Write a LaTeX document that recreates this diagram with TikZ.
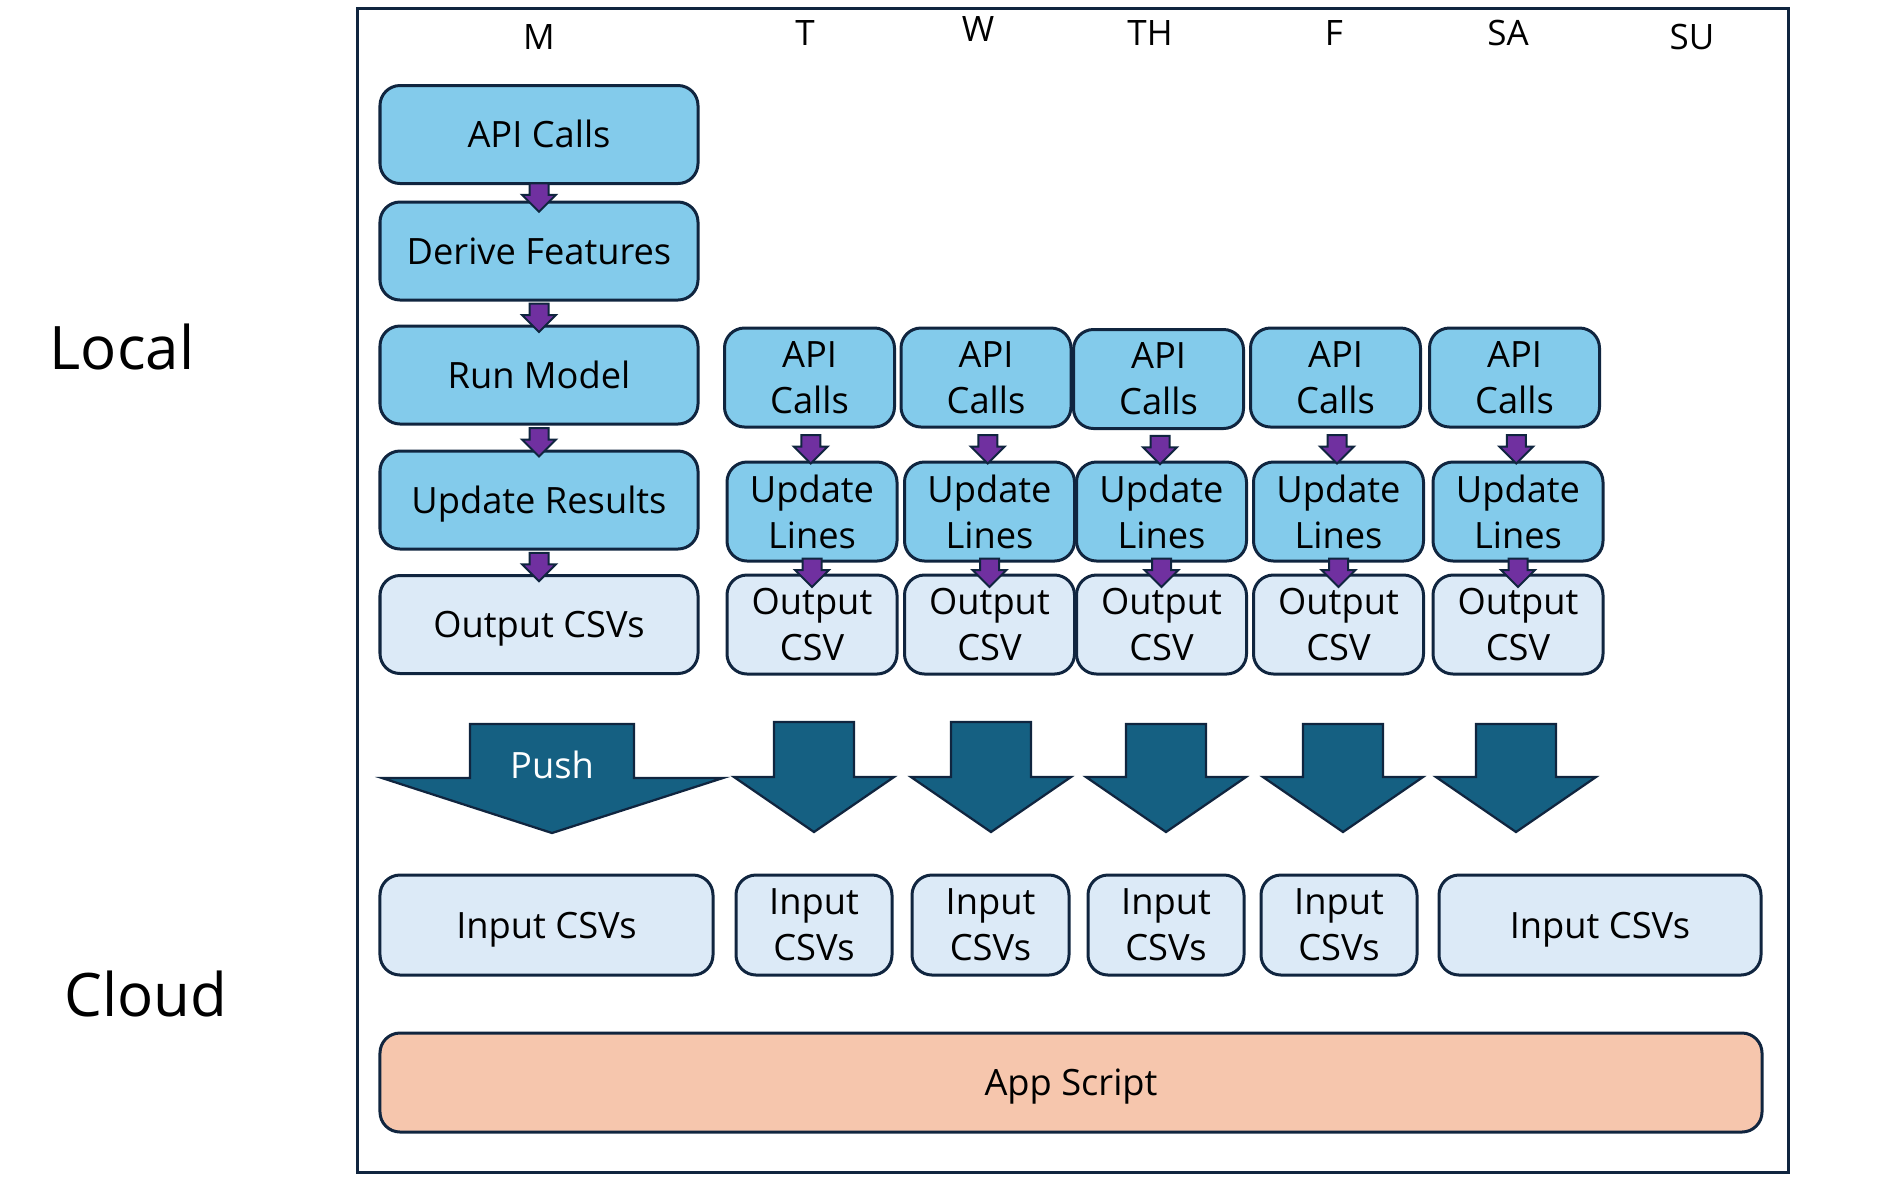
\documentclass[tikz,border=0pt]{standalone}
\usepackage{fontspec}
\setmainfont{Open Sans}
\usetikzlibrary{shapes.arrows,calc}
\definecolor{lblue}{HTML}{83CBEB}
\definecolor{pale}{HTML}{DCEAF7}
\definecolor{navy}{HTML}{10253F}
\definecolor{teal}{HTML}{156082}
\definecolor{purp}{HTML}{7030A0}
\definecolor{salmon}{HTML}{F6C6AD}
\newcommand{\boxfont}{\fontsize{14.5}{18.4}\selectfont}
\begin{document}
\begin{tikzpicture}[x=0.4pt,y=-0.4pt,
  box/.style={draw=navy, line width=1.2pt, rounded corners=8pt, fill=lblue, align=center, inner sep=0pt, font=\boxfont, text=black},
  outbox/.style={box, fill=pale},
  oneline/.style={text height=10.5pt, text depth=0pt},
  mbox/.style={minimum width=127.2pt, minimum height=39.2pt, oneline},
  dbox/.style={minimum width=68pt, minimum height=39.6pt},
  smallarrow/.style={single arrow, draw=navy, fill=purp, line width=0.8pt, minimum height=11.4pt, minimum width=13.2pt, single arrow head extend=3pt, inner sep=3.4pt, shape border rotate=270},
  bigarrow/.style={draw=navy, fill=teal, line width=0.9pt, line join=miter},
  daylbl/.style={font=\fontsize{14}{16}\selectfont, text=black, inner sep=0pt},
  sidelbl/.style={font=\fontsize{24}{28}\selectfont, text=black, inner sep=0pt}
]
\useasboundingbox (0,0) rectangle (1896,1176);
\draw[draw=navy, line width=1.2pt] (357,8) rectangle (1788,1172);

% side labels
\node[sidelbl] (local) at (122,347) {Local};
\node[sidelbl] (cloud) at (146,994) {Cloud};

% day labels
\node[daylbl] (dM) at (539,37) {M};
\node[daylbl] (dT) at (805,33) {T};
\node[daylbl] (dW) at (978,29) {W};
\node[daylbl] (dTH) at (1150,33) {TH};
\node[daylbl] (dF) at (1334,33) {F};
\node[daylbl] (dSA) at (1508,33) {SA};
\node[daylbl] (dSU) at (1692,37) {SU};

% Monday column
\node[box,mbox] (mapi) at (539,134.5) {API Calls};
\node[box,mbox] (mder) at (539,251) {Derive Features};
\node[box,mbox] (mrun) at (539,375) {Run Model};
\node[box,mbox] (mupd) at (539,500) {Update Results};
\node[outbox,mbox] (mout) at (539,624.5) {Output CSVs};
\node[smallarrow] (ma1) at ($(mapi.south)!0.5!(mder.north)$) {};
\node[smallarrow] (ma2) at ($(mder.south)!0.5!(mrun.north)$) {};
\node[smallarrow] (ma3) at ($(mrun.south)!0.5!(mupd.north)$) {};
\node[smallarrow] (ma4) at ($(mupd.south)!0.5!(mout.north)$) {};

% other days
\foreach \n/\xa/\ya/\xb in {T/809.5/377.5/812, W/986/377.5/989.5, TH/1158.5/379/1161.5, F/1335.5/377.5/1338.5, SA/1514.5/377.5/1518}{
  \node[box,dbox] (api\n) at (\xa,\ya) {API\\Calls};
  \node[box,dbox] (upd\n) at (\xb,511.5) {Update\\Lines};
  \node[outbox,dbox] (out\n) at (\xb,624.5) {Output\\CSV};
  \node[smallarrow] (a1\n) at ($(api\n.south)!0.5!(upd\n.north)$) {};
  \node[smallarrow] (a2\n) at ($(upd\n.south)!0.5!(out\n.north)$) {};
}

% big arrows
\draw[bigarrow] (470,724) -- (634,724) -- (634,778) -- (723,778) -- (552,833) -- (382,778) -- (470,778) -- cycle;
\node[font=\boxfont, text=white, inner sep=0pt] (push) at (552,765) {Push};
\foreach \cx/\tp in {814/722, 991/722, 1166/724, 1343/724, 1516/724}{
  \draw[bigarrow] (\cx-40,\tp) -- (\cx+40,\tp) -- (\cx+40,777) -- (\cx+80,777) -- (\cx,832) -- (\cx-80,777) -- (\cx-40,777) -- cycle;
}

% inputs
\node[outbox, oneline, minimum width=133.2pt, minimum height=40pt] (inM) at (546.5,925) {Input CSVs};
\node[outbox, minimum width=62.4pt, minimum height=40pt] (inT) at (814,925) {Input\\CSVs};
\node[outbox, minimum width=62.8pt, minimum height=40pt] (inW) at (990.5,925) {Input\\CSVs};
\node[outbox, minimum width=62.4pt, minimum height=40pt] (inTH) at (1166,925) {Input\\CSVs};
\node[outbox, minimum width=62.4pt, minimum height=40pt] (inF) at (1339,925) {Input\\CSVs};
\node[outbox, oneline, minimum width=128.8pt, minimum height=40pt] (inSA) at (1600,925) {Input CSVs};

% app script
\node[box, oneline, fill=salmon, minimum width=552.8pt, minimum height=39.6pt] (app) at (1071,1082.5) {App Script};
\end{tikzpicture}
\end{document}
